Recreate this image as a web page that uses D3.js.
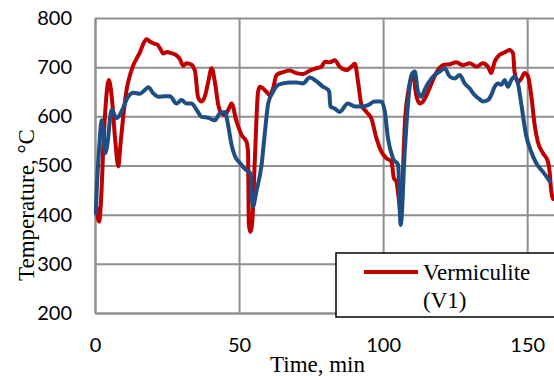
<!DOCTYPE html>
<html>
<head>
<meta charset="utf-8">
<script src="https://cdn.jsdelivr.net/npm/d3@7/dist/d3.min.js"></script>
<style>
body { margin: 0; background: #fff; overflow: hidden; }
.axis text { font-family: Lato, "Open Sans", sans-serif; font-size: 20px; fill: #000; }
.axis line, .axis path { stroke: #8f8f8f; stroke-width: 2px; }
.title { font-family: "Liberation Serif", "Times New Roman", serif; font-size: 23px; fill: #000; }
.series { fill: none; stroke-width: 4px; stroke-linejoin: round; stroke-linecap: round; }
</style>
</head>
<body>
<div id="main"></div>
<script>
var ctx = {
    width: 554,
    height: 376,
    left: 95,
    top: 18,
    right: 556,
    bottom: 313
};

var xTicks = [0, 50, 100, 150];
var yTicks = [200, 300, 400, 500, 600, 700, 800];

// red series, Vermiculite (V1)
var v1Time = [0.5, 1.4, 2.2, 2.9, 3.8, 4.8, 5.8, 6.9, 8.1, 8.8, 10.0, 11.0, 12.2, 13.3, 14.5, 15.6, 16.8, 17.9, 19.3, 20.5,
    21.6, 22.6, 23.7, 25.0, 26.2, 28.3, 29.5, 30.6, 31.8, 33.5, 34.7, 35.8, 37.0, 38.1, 39.3, 40.5, 41.6, 42.8, 43.9, 45.1,
    46.4, 47.4, 49.1, 50.9, 52.6, 53.1, 53.4, 53.9, 54.5, 55.5, 56.6, 57.2, 59.5, 60.7, 61.8, 63.0, 65.3, 67.6, 69.9, 72.2,
    74.5, 76.9, 78.6, 79.8, 81.5, 83.2, 84.9, 87.3, 89.0, 90.2, 91.3, 92.5, 94.2, 95.9, 97.7, 99.4, 101.1, 102.9, 103.7, 104.6,
    105.4, 106.1, 106.8, 107.5, 108.7, 110.4, 111.5, 112.7, 113.8, 115.6, 117.3, 119.0, 120.8, 123.1, 125.4, 127.7, 130.0, 132.4, 134.6, 136.4,
    137.5, 138.7, 140.4, 142.2, 143.9, 145.1, 145.6, 146.8, 148.0, 149.1, 150.3, 151.4, 152.6, 153.7, 155.5, 157.2, 157.8, 158.3, 159.0];
var v1Temp = [415, 386, 440, 540, 630, 674, 640, 560, 498, 540, 610, 655, 685, 704, 718, 730, 748, 757, 751, 748,
    746, 738, 728, 731, 729, 724, 716, 703, 708, 705, 692, 638, 630, 640, 670, 698, 670, 623, 606, 603,
    615, 626, 590, 562, 548, 528, 380, 365, 380, 515, 650, 660, 650, 643, 657, 684, 690, 693, 688, 686,
    693, 698, 701, 711, 710, 714, 701, 694, 701, 707, 670, 623, 609, 596, 555, 528, 515, 508, 475, 467,
    434, 400, 480, 582, 650, 684, 643, 626, 630, 650, 674, 694, 704, 706, 710, 704, 708, 701, 708, 701,
    688, 711, 725, 730, 735, 728, 691, 670, 677, 688, 681, 643, 582, 548, 525, 508, 487, 450, 432];

// blue series (its legend entry is cut off at the right)
var refTime = [0.3, 0.6, 1.5, 2.3, 3.0, 3.6, 4.2, 5.8, 7.5, 9.3, 11.3, 13.3, 15.6, 17.0, 18.5, 20.2, 21.9, 24.3, 26.0, 28.3,
    30.0, 31.8, 33.5, 35.3, 37.0, 39.3, 41.6, 43.3, 45.1, 46.2, 47.4, 48.5, 50.3, 52.0, 53.9, 54.8, 56.0, 57.8, 59.0, 60.1,
    61.8, 63.6, 65.3, 67.6, 69.9, 72.2, 74.5, 76.9, 79.2, 80.9, 81.3, 81.7, 83.2, 84.9, 87.8, 90.2, 92.5, 94.8, 97.1, 99.4,
    100.6, 101.7, 103.4, 105.2, 106.1, 107.5, 108.7, 109.8, 111.0, 112.1, 113.3, 114.4, 115.6, 117.9, 119.6, 121.4, 123.1, 124.8, 126.6, 128.3,
    130.0, 131.8, 133.5, 134.6, 136.4, 137.5, 138.7, 139.9, 141.0, 142.2, 143.3, 144.5, 145.6, 146.8, 148.0, 149.6, 151.4, 153.2, 155.5, 157.8];
var refTemp = [403, 450, 540, 592, 560, 525, 540, 614, 596, 611, 638, 648, 646, 652, 659, 647, 640, 641, 641, 626,
    633, 626, 626, 613, 599, 597, 592, 606, 609, 582, 542, 520, 505, 493, 484, 416, 447, 501, 569, 626,
    650, 664, 667, 669, 669, 667, 679, 671, 660, 654, 650, 620, 616, 609, 626, 620, 620, 623, 630, 630,
    609, 555, 515, 501, 379, 528, 630, 684, 691, 650, 640, 654, 667, 684, 691, 698, 681, 677, 684, 667,
    657, 643, 635, 630, 633, 643, 660, 667, 664, 674, 660, 674, 681, 667, 623, 562, 528, 504, 487, 468];

var legendLines = ["Vermiculite", "(V1)"];

var colors = { v1: "#c00000", ref: "#1f4e85" };

var createChart = function(svg) {
    svg.attr("width", ctx.width).attr("height", ctx.height);

    var x = d3.scaleLinear().domain([0, 160]).range([ctx.left, ctx.right]);
    var y = d3.scaleLinear().domain([200, 800]).range([ctx.bottom, ctx.top]);

    // y axis with horizontal gridlines
    svg.append("g")
       .attr("class", "axis")
       .attr("transform", "translate(" + ctx.left + ",0)")
       .call(d3.axisLeft(y).tickValues(yTicks)
               .tickSize(-(ctx.right - ctx.left)).tickSizeOuter(0).tickPadding(23));

    // x axis with vertical gridlines
    svg.append("g")
       .attr("class", "axis")
       .attr("transform", "translate(0," + ctx.bottom + ")")
       .call(d3.axisBottom(x).tickValues(xTicks)
               .tickSize(-(ctx.bottom - ctx.top)).tickSizeOuter(0).tickPadding(25));

    var line = d3.line()
                 .curve(d3.curveMonotoneX)
                 .x(function(d) { return x(d[0]); })
                 .y(function(d) { return y(d[1]); });

    var refData = refTime.map(function(t, i) { return [t, refTemp[i]]; });
    var v1Data = v1Time.map(function(t, i) { return [t, v1Temp[i]]; });

    svg.append("path")
       .datum(v1Data)
       .attr("class", "series")
       .attr("stroke", colors.v1)
       .attr("d", line);
    svg.append("path")
       .datum(refData)
       .attr("class", "series")
       .attr("stroke", colors.ref)
       .attr("d", line);

    // axis titles
    svg.append("text")
       .attr("class", "title")
       .attr("transform", "translate(34,281)rotate(-90)")
       .text("Temperature, \u00b0C");
    svg.append("text")
       .attr("class", "title")
       .attr("x", 270)
       .attr("y", 372)
       .text("Time, min");

    // legend, runs off the right edge
    var lg = svg.append("g");
    lg.append("rect")
      .attr("x", 336).attr("y", 253)
      .attr("width", 240).attr("height", 64)
      .attr("fill", "#fff")
      .attr("stroke", "#000")
      .attr("stroke-width", 1.5);
    lg.append("line")
      .attr("x1", 364).attr("x2", 418)
      .attr("y1", 272).attr("y2", 272)
      .attr("stroke", colors.v1)
      .attr("stroke-width", 4);
    lg.selectAll("text.leg")
      .data(legendLines)
      .enter().append("text")
        .attr("class", "title leg")
        .attr("x", 423)
        .attr("y", function(d, i) { return 280 + i * 28; })
        .text(function(d) { return d; });
};

var createViz = function() {
    var svgEl = d3.select("#main").append("svg");
    createChart(svgEl);
};

createViz();
</script>
</body>
</html>
